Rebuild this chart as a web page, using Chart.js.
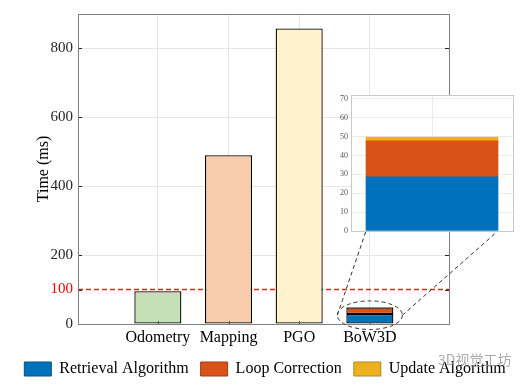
<!DOCTYPE html>
<html>
<head>
<meta charset="utf-8">
<script src="https://cdn.jsdelivr.net/npm/chart.js@4"></script>
<style>
html, body { margin: 0; padding: 0; background: #fff; }
#wrap { position: relative; width: 530px; height: 384px; }
#main { position: absolute; left: 0; top: 0; }
#zoom { position: absolute; left: 320px; top: 85px; }
#wm { position: absolute; left: 438px; top: 349px; font: 14px "Noto Sans CJK SC"; color: rgba(150,150,150,0.8); }
</style>
</head>
<body>
<div id="wrap">
  <canvas id="main" width="530" height="384"></canvas>
  <canvas id="zoom" width="205" height="155"></canvas>
  <span id="wm">3D视觉工坊</span>
</div>
<script>
const categories = ['Odometry', 'Mapping', 'PGO', 'BoW3D'];
const moduleTimes = [95, 490, 858];          // Odometry, Mapping, PGO
const moduleColors = ['#c5e0b4', '#f8cbad', '#fff2cc'];
const bowParts = ['Retrieval Algorithm', 'Loop Correction', 'Update Algorithm'];
const bowTimes = [28.7, 19, 2];
const bowColors = ['#0072bd', '#d95319', '#edb120'];
const bowEdge = ['#00508a', '#a33c12', '#b8891a'];
const yTicks = [0, 100, 200, 400, 600, 800];
const zoomTicks = [0, 10, 20, 30, 40, 50, 60, 70];
const realtime = 100;
const xMin = -0.13, xMax = 5.12;
const bowPos = categories.indexOf('BoW3D') + 1;
const serif = 'Liberation Serif';

const zoomCanvas = document.getElementById('zoom');

const zoomFrame = {
    id: 'zoomFrame',
    beforeDraw(chart) {
        const { ctx, chartArea: a } = chart;
        ctx.save();
        ctx.fillStyle = '#fff';
        ctx.fillRect(a.left, a.top, a.right - a.left, a.bottom - a.top);
        ctx.restore();
    },
    afterDraw(chart) {
        const { ctx, chartArea: a } = chart;
        ctx.save();
        ctx.strokeStyle = '#c8c8c8';
        ctx.lineWidth = 1;
        ctx.strokeRect(Math.round(a.left) + 0.5, Math.round(a.top) + 0.5, Math.round(a.right - a.left), Math.round(a.bottom - a.top));
        ctx.restore();
    }
};

const zoomChart = new Chart(zoomCanvas, {
    type: 'bar',
    data: {
        labels: ['BoW3D'],
        datasets: bowParts.map((name, k) => ({
            label: name, data: [bowTimes[k]], backgroundColor: bowColors[k], borderWidth: 0, barThickness: 132
        }))
    },
    options: {
        responsive: false, animation: false,
        layout: { padding: { top: 10, right: 12, bottom: 9, left: 0 } },
        plugins: { legend: { display: false }, tooltip: { enabled: false } },
        scales: {
            x: { stacked: true, grid: { color: '#ebebeb', drawTicks: false, offset: false }, ticks: { display: false }, border: { display: false } },
            y: {
                stacked: true, min: 0, max: 72,
                afterBuildTicks: s => { s.ticks = zoomTicks.map(v => ({ value: v })); },
                ticks: { font: { family: serif, size: 8 }, color: '#555', padding: 3 },
                grid: { color: '#ebebeb', drawTicks: false },
                border: { display: false },
                afterFit: s => { s.width = 31; }
            }
        }
    },
    plugins: [zoomFrame]
});

const frame = {
    id: 'frame',
    afterDatasetsDraw(chart) {
        const { ctx, chartArea: a, scales: { x, y } } = chart;
        ctx.save();
        ctx.strokeStyle = '#262626';
        ctx.lineWidth = 1;
        ctx.beginPath();
        yTicks.forEach(v => {
            const py = Math.round(y.getPixelForValue(v)) + 0.5;
            ctx.moveTo(a.left, py); ctx.lineTo(a.left + 4, py);
            ctx.moveTo(a.right, py); ctx.lineTo(a.right - 4, py);
        });
        ctx.stroke();
        ctx.strokeStyle = '#555';
        ctx.beginPath();
        categories.forEach((c, i) => {
            const px = Math.round(x.getPixelForValue(i + 1)) + 0.5;
            ctx.moveTo(px, a.bottom); ctx.lineTo(px, a.bottom - 3);
        });
        ctx.stroke();
        ctx.strokeStyle = '#808080';
        ctx.strokeRect(Math.round(a.left) + 0.5, Math.round(a.top) + 0.5, Math.round(a.right - a.left), Math.round(a.bottom - a.top));

        // dashed ellipse round the BoW3D bar and the lines up to the zoom
        const low = chart.getDatasetMeta(1).data[0];
        const high = chart.getDatasetMeta(3).data[0];
        const cx = low.x, cy = (high.y + low.base) / 2;
        const rx = low.width / 2 + 9, ry = (low.base - high.y) / 2 + 6;
        ctx.setLineDash([4, 3]);
        ctx.strokeStyle = '#333';
        ctx.beginPath();
        ctx.ellipse(cx, cy, rx, ry, 0, 0, Math.PI * 2);
        ctx.stroke();
        const zb = zoomChart.getDatasetMeta(0).data[0];
        const ox = zoomCanvas.offsetLeft, oy = zoomCanvas.offsetTop;
        const zy = zoomChart.scales.y.getPixelForValue(0) + oy;
        ctx.beginPath();
        ctx.moveTo(cx - rx, cy); ctx.lineTo(ox + zb.x - zb.width / 2, zy);
        ctx.moveTo(cx + rx, cy); ctx.lineTo(ox + zb.x + zb.width / 2, zy);
        ctx.stroke();
        ctx.restore();
    }
};

const mainChart = new Chart(document.getElementById('main'), {
    type: 'bar',
    data: {
        datasets: [
            {
                label: 'modules', data: moduleTimes.map((v, i) => ({ x: i + 1, y: v })),
                backgroundColor: moduleColors, borderColor: '#000', borderWidth: 1.3, borderSkipped: false, order: 1
            },
            ...bowParts.map((name, k) => ({
                label: name, data: [{ x: bowPos, y: bowTimes[k] }],
                backgroundColor: bowColors[k], borderColor: '#000', borderWidth: 1.3, borderSkipped: false, order: 1
            })),
            {
                type: 'line', label: 'limit', stack: 'ref',
                data: [{ x: xMin, y: realtime }, { x: xMax, y: realtime }],
                borderColor: '#ff1a1a', borderWidth: 1.5, borderDash: [5, 3], pointRadius: 0, order: 2
            }
        ]
    },
    options: {
        responsive: false, animation: false,
        barPercentage: 0.666, categoryPercentage: 1,
        layout: { padding: { top: 13, left: 0, right: 0, bottom: -3 } },
        plugins: {
            tooltip: { enabled: false },
            legend: {
                position: 'bottom',
                labels: {
                    boxWidth: 27, boxHeight: 14, padding: 12, color: '#000',
                    font: { family: serif, size: 16 },
                    generateLabels: () => bowParts.map((name, k) => ({
                        text: name, fillStyle: bowColors[k], strokeStyle: bowEdge[k], lineWidth: 1,
                        datasetIndex: k + 1, hidden: false, fontColor: '#000'
                    }))
                }
            }
        },
        scales: {
            x: {
                type: 'linear', min: xMin, max: xMax, stacked: true, offset: false,
                afterBuildTicks: s => { s.ticks = categories.map((c, i) => ({ value: i + 1 })); },
                ticks: {
                    callback: v => categories[v - 1], autoSkip: false, maxRotation: 0,
                    font: { family: serif, size: 16 }, color: '#000', padding: 4
                },
                grid: { color: '#e6e6e6', drawTicks: false, offset: false },
                border: { display: false },
                afterFit: s => { s.height = 25; }
            },
            y: {
                min: 0, max: 900, stacked: true,
                afterBuildTicks: s => { s.ticks = yTicks.map(v => ({ value: v })); },
                ticks: {
                    color: c => c.tick.value === realtime ? '#ff0000' : '#262626',
                    font: { family: serif, size: 15 }, padding: 5
                },
                grid: {
                    color: c => (c.tick.value === realtime || c.tick.value === 0) ? 'rgba(0,0,0,0)' : '#e6e6e6',
                    drawTicks: false
                },
                border: { display: false },
                title: { display: true, text: 'Time (ms)', color: '#000', font: { family: serif, size: 16 }, padding: { top: 34, bottom: 0 } },
                afterFit: s => { s.width = 78; }
            },
            yR: {
                position: 'right', min: 0, max: 900,
                grid: { display: false }, ticks: { display: false }, border: { display: false },
                afterFit: s => { s.width = 81; }
            }
        }
    },
    plugins: [frame]
});
</script>
</body>
</html>
